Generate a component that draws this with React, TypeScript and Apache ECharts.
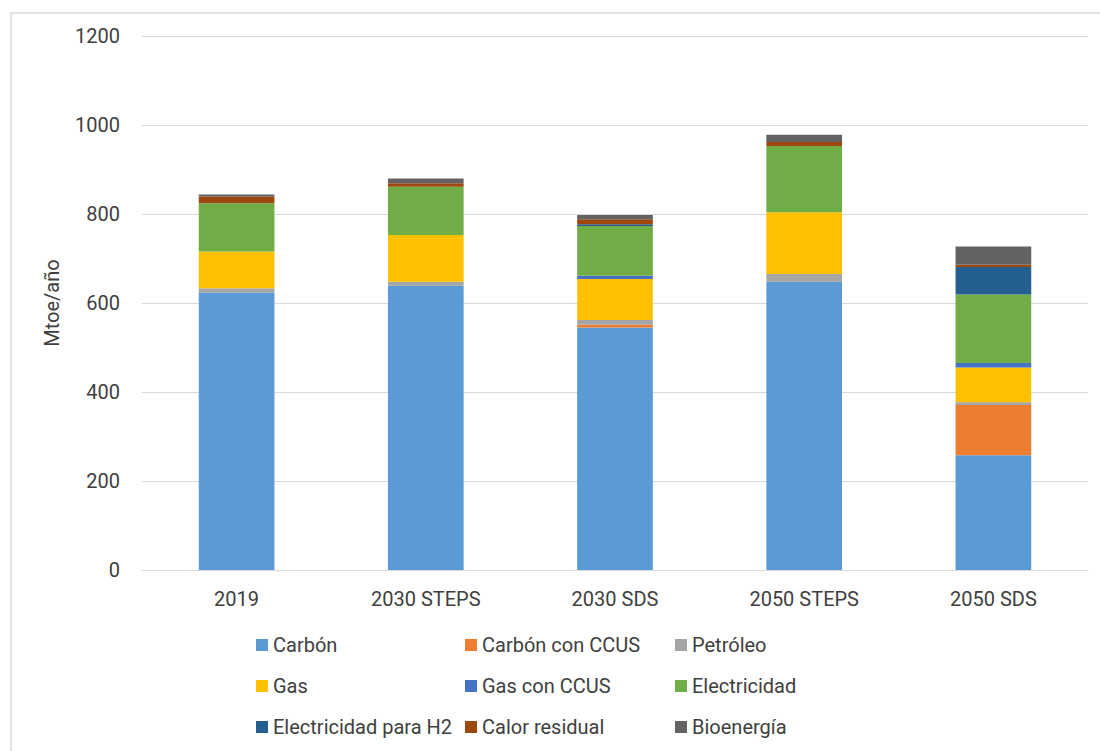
import React, { useEffect, useRef } from "react";
import * as echarts from "echarts";

// Escenarios
const categories = ["2019", "2030 STEPS", "2030 SDS", "2050 STEPS", "2050 SDS"];

// Consumo por fuente (Mtoe/año)
const carbon = [623, 639, 545, 648, 258];
const carbonCcus = [0, 0, 6, 0, 113];
const petroleo = [10, 9, 11, 17, 6];
const gas = [83, 105, 92, 139, 78];
const gasCcus = [0, 0, 7, 0, 10];
const electricidad = [108, 108, 112, 149, 154];
const electricidadH2 = [0, 0, 4, 0, 62];
const calorResidual = [15, 8, 11, 9, 5];
const bioenergia = [5, 11, 10, 16, 41];

const yTicks = { min: 0, max: 1200, interval: 200 };

const seriesDefs = [
  { name: "Carbón", data: carbon, color: "#5B9BD5" },
  { name: "Carbón con CCUS", data: carbonCcus, color: "#ED7D31" },
  { name: "Petróleo", data: petroleo, color: "#A5A5A5" },
  { name: "Gas", data: gas, color: "#FFC000" },
  { name: "Gas con CCUS", data: gasCcus, color: "#4472C4" },
  { name: "Electricidad", data: electricidad, color: "#70AD47" },
  { name: "Electricidad para H2", data: electricidadH2, color: "#255E91" },
  { name: "Calor residual", data: calorResidual, color: "#9E480E" },
  { name: "Bioenergía", data: bioenergia, color: "#636363" },
];

const FONT = "Roboto, 'Noto Sans', sans-serif";
const TEXT = "#404040";
const FS = 20;

// Legend laid out as a 3x3 grid, one legend block per entry
const legendCols = [256, 465, 675];
const legendRows = [635, 676, 717];

export default function App() {
  const ref = useRef<HTMLDivElement>(null);

  useEffect(() => {
    document.body.style.margin = "0";
    if (!ref.current) return;
    const chart = echarts.init(ref.current, null, { renderer: "svg" });

    const legends = seriesDefs.map((s, i) => ({
      data: [s.name],
      left: legendCols[i % 3],
      top: legendRows[Math.floor(i / 3)],
      itemWidth: 12,
      itemHeight: 12,
      itemGap: 0,
      icon: "rect",
      padding: 0,
      textStyle: { fontFamily: FONT, fontSize: FS, color: TEXT, lineHeight: 20 },
    }));

    chart.setOption({
      animation: false,
      backgroundColor: "#ffffff",
      textStyle: { fontFamily: FONT },
      graphic: [
        {
          type: "rect",
          shape: { x: 11, y: 13, width: 1200, height: 800 },
          style: { fill: "none", stroke: "#d9d9d9", lineWidth: 1.5 },
          silent: true,
        },
      ],
      legend: legends,
      grid: { left: 142, right: 12, top: 36, bottom: 181 },
      xAxis: {
        type: "category",
        data: categories,
        axisTick: { show: false },
        axisLine: { lineStyle: { color: "#d9d9d9", width: 1 } },
        axisLabel: { fontFamily: FONT, fontSize: FS, color: TEXT, margin: 19 },
      },
      yAxis: {
        type: "value",
        min: yTicks.min,
        max: yTicks.max,
        interval: yTicks.interval,
        name: "Mtoe/año",
        nameLocation: "middle",
        nameGap: 80,
        nameTextStyle: { fontFamily: FONT, fontSize: FS, color: TEXT },
        axisLine: { show: false },
        axisTick: { show: false },
        axisLabel: {
          fontFamily: FONT,
          fontSize: FS,
          color: TEXT,
          margin: 22,
          formatter: (v: number) => String(v),
        },
        splitLine: { lineStyle: { color: "#d9d9d9", width: 1 } },
      },
      series: seriesDefs.map((s) => ({
        name: s.name,
        type: "bar",
        stack: "total",
        barWidth: "40%",
        data: s.data,
        itemStyle: { color: s.color },
      })),
    });

    return () => chart.dispose();
  }, []);

  return <div ref={ref} style={{ width: 1100, height: 751 }} />;
}
